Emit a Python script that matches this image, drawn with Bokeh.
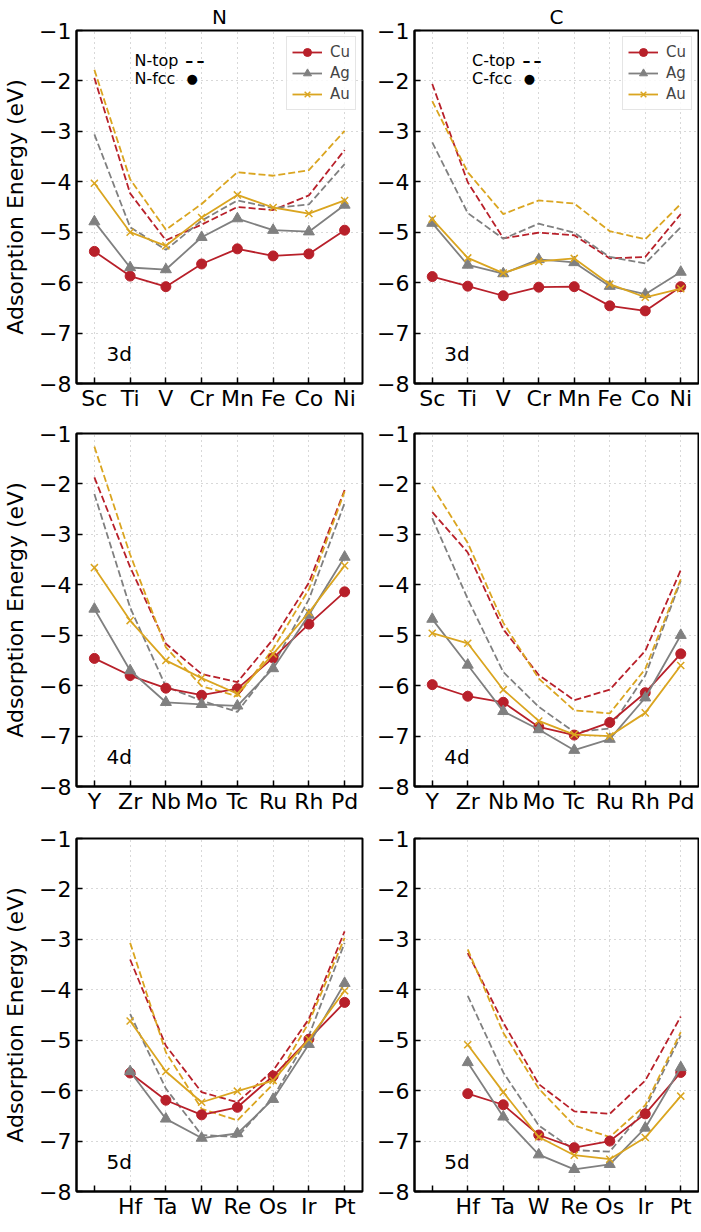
from bokeh.plotting import figure
from bokeh.models import FactorRange, Range1d, FixedTicker, CustomJSTickFormatter, Label
from bokeh.layouts import gridplot
from bokeh.embed import file_html
from bokeh.resources import INLINE

FONT = "DejaVu Sans"

# ---------------- data ----------------
metals = ["Cu", "Ag", "Au"]
adsorbates = ["N", "C"]
rows = ["3d", "4d", "5d"]

elements_3d = ["Sc", "Ti", "V", "Cr", "Mn", "Fe", "Co", "Ni"]
elements_4d = ["Y", "Zr", "Nb", "Mo", "Tc", "Ru", "Rh", "Pd"]
elements_5d = ["Hf", "Ta", "W", "Re", "Os", "Ir", "Pt"]
blank_slot_5d = [" "]

# N, 3d
N_3d_fcc_Cu = [-5.38, -5.87, -6.08, -5.63, -5.33, -5.47, -5.43, -4.96]
N_3d_fcc_Ag = [-4.79, -5.70, -5.74, -5.10, -4.73, -4.96, -4.99, -4.46]
N_3d_fcc_Au = [-4.03, -5.00, -5.27, -4.71, -4.26, -4.51, -4.63, -4.37]
N_3d_top_Cu = [-1.94, -4.23, -5.16, -4.85, -4.50, -4.56, -4.27, -3.37]
N_3d_top_Ag = [-3.06, -4.90, -5.35, -4.77, -4.37, -4.52, -4.45, -3.65]
N_3d_top_Au = [-1.78, -3.95, -4.95, -4.44, -3.81, -3.88, -3.77, -2.99]
# C, 3d
C_3d_fcc_Cu = [-5.88, -6.07, -6.26, -6.09, -6.08, -6.46, -6.56, -6.08]
C_3d_fcc_Ag = [-4.82, -5.65, -5.82, -5.54, -5.60, -6.07, -6.23, -5.79]
C_3d_fcc_Au = [-4.74, -5.51, -5.81, -5.58, -5.52, -6.03, -6.29, -6.12]
C_3d_top_Cu = [-2.06, -4.01, -5.12, -5.01, -5.06, -5.52, -5.49, -4.64]
C_3d_top_Ag = [-3.22, -4.62, -5.13, -4.83, -5.01, -5.49, -5.62, -4.90]
C_3d_top_Au = [-2.40, -3.81, -4.64, -4.37, -4.43, -4.98, -5.14, -4.44]
# N, 4d
N_4d_fcc_Cu = [-5.46, -5.80, -6.05, -6.19, -6.06, -5.45, -4.78, -4.14]
N_4d_fcc_Ag = [-4.48, -5.70, -6.33, -6.37, -6.40, -5.66, -4.60, -3.45]
N_4d_fcc_Au = [-3.66, -4.71, -5.50, -5.85, -6.16, -5.37, -4.55, -3.62]
N_4d_top_Cu = [-1.87, -3.65, -5.17, -5.77, -5.93, -5.08, -3.96, -2.12]
N_4d_top_Ag = [-2.20, -4.45, -6.02, -6.30, -6.52, -5.60, -4.29, -2.38]
N_4d_top_Au = [-1.26, -3.40, -5.24, -6.01, -6.21, -5.27, -4.09, -2.15]
# C, 4d
C_4d_fcc_Cu = [-5.98, -6.21, -6.33, -6.82, -6.98, -6.73, -6.14, -5.37]
C_4d_fcc_Ag = [-4.68, -5.59, -6.51, -6.87, -7.28, -7.06, -6.24, -5.00]
C_4d_fcc_Au = [-4.96, -5.16, -6.08, -6.70, -6.97, -7.00, -6.54, -5.60]
C_4d_top_Cu = [-2.56, -3.36, -4.88, -5.79, -6.29, -6.08, -5.31, -3.71]
C_4d_top_Ag = [-2.68, -4.28, -5.73, -6.42, -6.92, -6.85, -5.80, -3.92]
C_4d_top_Au = [-2.05, -3.17, -4.75, -5.86, -6.49, -6.55, -5.67, -3.89]
# N, 5d
N_5d_fcc_Cu = [-5.65, -6.19, -6.48, -6.33, -5.71, -4.98, -4.25]
N_5d_fcc_Ag = [-5.62, -6.56, -6.94, -6.85, -6.17, -5.08, -3.87]
N_5d_fcc_Au = [-4.62, -5.62, -6.23, -6.01, -5.80, -4.98, -4.02]
N_5d_top_Cu = [-3.40, -5.11, -6.03, -6.23, -5.60, -4.58, -2.84]
N_5d_top_Ag = [-4.48, -5.96, -6.88, -6.92, -6.13, -4.91, -3.07]
N_5d_top_Au = [-3.07, -5.24, -6.36, -6.59, -5.87, -4.65, -2.97]
# C, 5d
C_5d_fcc_Cu = [-6.06, -6.28, -6.88, -7.13, -7.00, -6.46, -5.64]
C_5d_fcc_Ag = [-5.44, -6.52, -7.27, -7.56, -7.46, -6.74, -5.54]
C_5d_fcc_Au = [-5.09, -6.03, -6.92, -7.28, -7.36, -6.93, -6.11]
C_5d_top_Cu = [-3.27, -4.65, -5.87, -6.41, -6.46, -5.80, -4.53]
C_5d_top_Ag = [-4.12, -5.64, -6.69, -7.18, -7.21, -6.36, -4.91]
C_5d_top_Au = [-3.20, -4.85, -5.96, -6.69, -6.92, -6.29, -4.84]

y_ticks = [-8, -7, -6, -5, -4, -3, -2, -1]

# ---------------- styling ----------------
colors = {"Cu": "#b8202a", "Ag": "#808080", "Au": "#daa520"}
markers = {"Cu": "circle", "Ag": "triangle", "Au": "x"}
msize = {"Cu": 10, "Ag": 11, "Au": 10}

data = globals()
elements = {"3d": elements_3d, "4d": elements_4d, "5d": elements_5d}
factors = {"3d": elements_3d, "4d": elements_4d, "5d": blank_slot_5d + elements_5d}

FH = 353
top_border = {"3d": 28, "4d": 10, "5d": 10}
bottom_border = {"3d": 40, "4d": 42, "5d": 27}


def make_panel(ads, row, col):
    left = col == 0
    fw = 286 if left else 284
    p = figure(
        x_range=FactorRange(factors=factors[row], range_padding=0),
        y_range=Range1d(-8, -1),
        frame_width=fw, frame_height=FH,
        min_border_left=69 if left else 42,
        min_border_right=10 if left else 1,
        min_border_top=top_border[row],
        min_border_bottom=bottom_border[row],
        output_backend="svg", toolbar_location=None,
        title=ads if row == "3d" else None,
    )
    if row == "3d":
        p.title.text_font = FONT
        p.title.text_font_size = "20px"
        p.title.text_font_style = "normal"
        p.title.text_color = "black"
        p.title.align = "center"
        p.title.standoff = 4
        p.title.offset = 0
    p.background_fill_color = "white"
    p.border_fill_color = "white"
    p.outline_line_color = "black"
    p.outline_line_width = 2
    p.outline_line_alpha = 1

    for ax in (p.xaxis[0], p.yaxis[0]):
        ax.axis_line_color = "black"
        ax.axis_line_width = 2
        ax.major_tick_in = 6
        ax.major_tick_out = 0
        ax.major_tick_line_color = "black"
        ax.major_tick_line_width = 1.5
        ax.minor_tick_line_color = None
        ax.major_label_text_font = FONT
        ax.major_label_text_font_size = "22px"
        ax.major_label_text_color = "black"
        ax.major_label_standoff = 2
    p.yaxis.ticker = FixedTicker(ticks=y_ticks)
    p.yaxis.formatter = CustomJSTickFormatter(
        code="return tick < 0 ? '\u2212' + Math.abs(tick) : String(tick);")
    p.yaxis.major_label_standoff = 5
    p.xaxis.group_text_font_size = "0px"
    if left:
        p.yaxis.axis_label = "Adsorption Energy (eV)"
        p.yaxis.axis_label_text_font = FONT
        p.yaxis.axis_label_text_font_size = "22px"
        p.yaxis.axis_label_text_font_style = "normal"
        p.yaxis.axis_label_text_color = "black"
        p.yaxis.axis_label_standoff = 8

    p.grid.grid_line_color = "#b0b0b0"
    p.grid.grid_line_dash = "1 4"
    p.grid.grid_line_width = 1

    xs = elements[row]
    for m in metals:
        top = data[f"{ads}_{row}_top_{m}"]
        p.line(xs, top, line_color=colors[m], line_width=1.8, line_dash="7 3")
    for m in metals:
        fcc = data[f"{ads}_{row}_fcc_{m}"]
        p.line(xs, fcc, line_color=colors[m], line_width=1.8, legend_label=m)
        if markers[m] == "x":
            p.scatter(xs, fcc, marker="x", size=msize[m], line_color=colors[m],
                      line_width=1.5, legend_label=m)
        else:
            p.scatter(xs, fcc, marker=markers[m], size=msize[m], fill_color=colors[m],
                      line_color=colors[m], legend_label=m)

    if row == "3d":
        leg = p.legend[0]
        leg.location = "top_right"
        leg.margin = 6
        leg.padding = 5
        leg.spacing = 1
        leg.label_height = 20
        leg.glyph_height = 20
        leg.glyph_width = 30
        leg.label_standoff = 8
        leg.label_text_font = FONT
        leg.label_text_font_size = "15px"
        leg.border_line_color = "#cccccc"
        leg.border_line_width = 1
        leg.background_fill_alpha = 0.85
        p.add_layout(Label(x=1.62, y=-1.60, text=f"{ads}-top", text_font=FONT,
                           text_font_size="16px", text_baseline="alphabetic",
                           text_color="black"))
        p.add_layout(Label(x=3.04, y=-1.60, text="\u2013\u2009\u2013", text_font=FONT,
                           text_font_size="16px", text_font_style="bold",
                           text_baseline="alphabetic", text_color="black"))
        p.add_layout(Label(x=1.62, y=-1.95, text=f"{ads}-fcc", text_font=FONT,
                           text_font_size="16px", text_baseline="alphabetic",
                           text_color="black"))
        p.add_layout(Label(x=3.08, y=-1.95, text="\u25cf", text_font=FONT,
                           text_font_size="13px", text_baseline="alphabetic",
                           text_color="black"))
    else:
        p.legend.visible = False

    p.add_layout(Label(x=0.84, y=-7.42, text=row, text_font=FONT, text_font_size="20px",
                       text_baseline="alphabetic", text_color="black"))
    return p


grid = []
for row in rows:
    grid.append([make_panel(ads, row, i) for i, ads in enumerate(adsorbates)])

layout = gridplot(grid, toolbar_location=None)

with open("out.html", "w") as f:
    f.write(file_html(layout, INLINE))
